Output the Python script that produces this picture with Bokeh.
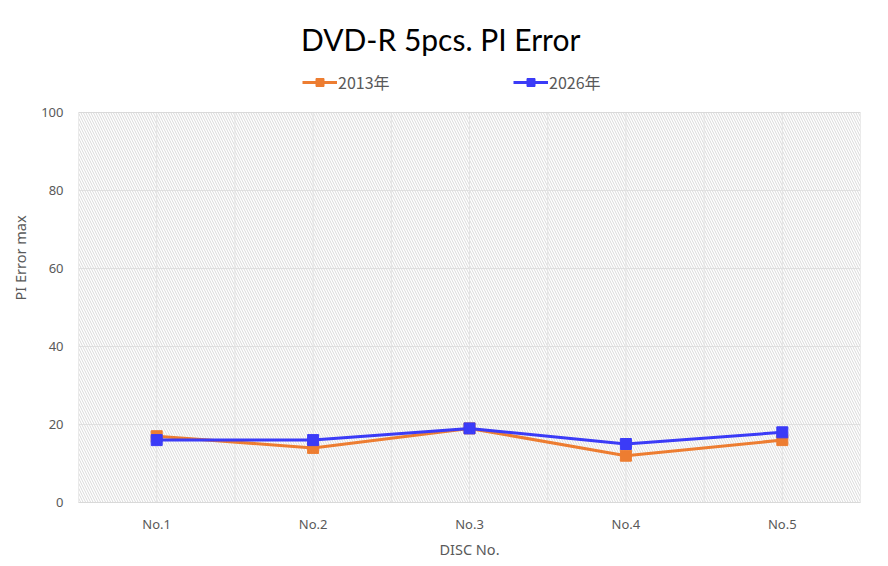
from bokeh.plotting import figure
from bokeh.models import (Range1d, FixedTicker, Legend, LegendItem,
                          CustomJSTickFormatter)
from bokeh.core.properties import value
from bokeh.embed import file_html
from bokeh.resources import INLINE

categories = ["No.1", "No.2", "No.3", "No.4", "No.5"]
series_2013 = [17, 14, 19, 12, 16]
series_2026 = [16, 16, 19, 15, 18]
y_ticks = [0, 20, 40, 60, 80, 100]
title_text = "DVD-R  5pcs. PI Error"
x_label = "DISC No."
y_label = "PI Error max"
names = ["2013年", "2026年"]

FONT = "Noto Sans CJK JP"
LATIN = "Noto Sans"
ORANGE = "#ED7D31"
BLUE = "#3B3BF7"
GRAY_TXT = "#595959"
GRID = "#E3E3E3"

W, H = 888, 566
B_LEFT, B_RIGHT, B_TOP, B_BOTTOM = 78, 28, 13, 64
frame_w = W - B_LEFT - B_RIGHT
frame_h = H - B_TOP - B_BOTTOM
px_per_unit = 390 / 100.0
y_top = frame_h / px_per_unit

n = len(categories)
xs = list(range(1, n + 1))
px_per_cat = frame_w / n

p = figure(width=W, height=H, output_backend="svg", toolbar_location=None,
           x_range=Range1d(0.5, n + 0.5), y_range=Range1d(0, y_top),
           min_border_left=B_LEFT, min_border_right=B_RIGHT,
           min_border_top=B_TOP, min_border_bottom=B_BOTTOM)
p.outline_line_color = None
p.background_fill_color = "white"
p.border_fill_color = "white"

# hatched plot area
p.quad(left=[0.5], right=[n + 0.5], bottom=[0], top=[100],
       fill_color=None, line_color=None, hatch_pattern="\\", hatch_color="#D9D9D9",
       hatch_scale=5.0, hatch_weight=1.0)

# gridlines
p.xgrid.visible = False
grid_x = [0.5 + 0.5 * i for i in range(1, 2 * n)]
p.segment(x0=grid_x, y0=[0] * len(grid_x), x1=grid_x, y1=[100] * len(grid_x),
          line_color=GRID, line_width=1)
p.ygrid.ticker = FixedTicker(ticks=y_ticks)
p.ygrid.grid_line_color = GRID
# plot-area border
p.quad(left=[0.5], right=[n + 0.5], bottom=[0], top=[100],
       fill_color=None, line_color="#D9D9D9", line_width=1)

# axes
p.xaxis.ticker = FixedTicker(ticks=xs)
p.xaxis.formatter = CustomJSTickFormatter(args=dict(cats=categories),
                                          code="return cats[Math.round(tick)-1] || '';")
p.yaxis.ticker = FixedTicker(ticks=y_ticks)
for ax in (p.xaxis[0], p.yaxis[0]):
    ax.major_tick_out = 0
    ax.major_tick_in = 0
    ax.minor_tick_out = 0
    ax.minor_tick_in = 0
    ax.major_tick_line_color = None
    ax.minor_tick_line_color = None
    ax.major_label_text_font = LATIN
    ax.major_label_text_font_size = "13px"
    ax.major_label_text_color = GRAY_TXT
    ax.axis_label_text_font = LATIN
    ax.axis_label_text_font_size = "14.5px"
    ax.axis_label_text_color = GRAY_TXT
    ax.axis_label_text_font_style = "normal"
p.xaxis.axis_line_color = "#D9D9D9"
p.yaxis.axis_line_color = None
p.xaxis.axis_label = x_label
p.yaxis.axis_label = y_label
p.xaxis.major_label_standoff = 12
p.xaxis.axis_label_standoff = 3
p.yaxis.major_label_standoff = 15
p.yaxis.axis_label_standoff = 8

l1 = p.line(xs, series_2013, line_color=ORANGE, line_width=3)
m1 = p.scatter(xs, series_2013, marker="square", size=11, fill_color=ORANGE, line_color=ORANGE)
l2 = p.line(xs, series_2026, line_color=BLUE, line_width=3)
m2 = p.scatter(xs, series_2026, marker="square", size=11, fill_color=BLUE, line_color=BLUE)

for items, xloc in (([LegendItem(label=names[0], renderers=[l1, m1])], 224),
                    ([LegendItem(label=names[1], renderers=[l2, m2])], 435)):
    lg = Legend(items=items, location=(xloc, 408), orientation="horizontal",
                padding=0, margin=0, spacing=0, glyph_width=35, glyph_height=20,
                label_height=20, label_standoff=1, border_line_color=None,
                background_fill_alpha=0, label_text_font=FONT,
                label_text_font_size="16px", label_text_color=GRAY_TXT)
    p.add_layout(lg, "center")

# title: centred on the whole chart, placed in data space above the plotted area
title_x = 0.5 + (W / 2 - B_LEFT) / px_per_cat
p.text(x=[title_x], y=[100 + (112 - 38) / px_per_unit], text=[title_text],
       text_align="center", text_baseline="middle",
       text_font=value("Lato"), text_font_size="30px", text_color="black")

open("out.html", "w").write(file_html(p, INLINE))
